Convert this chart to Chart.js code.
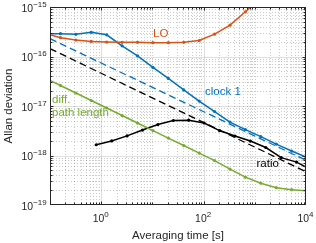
<!DOCTYPE html>
<html>
<head>
<meta charset="utf-8">
<script src="https://cdn.jsdelivr.net/npm/chart.js@4.4.1/dist/chart.umd.min.js"></script>
<style>
  html, body { margin: 0; padding: 0; background: #fff; }
  #wrap { width: 316px; height: 243px; }
</style>
</head>
<body>
<div id="wrap"><canvas id="allanChart" width="316" height="243"></canvas></div>
<script>
// averaging times (s), octave spaced
const tauOct = [0.1, 0.16, 0.32, 0.64, 1.28, 2.56, 5.12, 10.24, 20.48, 40.96, 81.92,
                163.84, 327.68, 655.36, 1310.72, 2621.44, 5242.88, 10000];
const tauRatio = [0.8, 1.6, 3.2, 6.4, 12.8, 25.6, 51.2, 102.4, 204.8, 409.6, 819.2,
                  1638.4, 3276.8, 6553.6, 10000];
const tauFit = [0.1, 10000];

const loValues = [2.76e-16, 2.40e-16, 2.15e-16, 2.02e-16, 1.96e-16, 1.93e-16, 1.93e-16,
                  1.90e-16, 1.90e-16, 1.93e-16, 2.10e-16, 2.83e-16, 4.30e-16, 8.0e-16, 1.53e-15];
const clock1Values = [2.89e-16, 2.89e-16, 2.80e-16, 3.08e-16, 2.74e-16, 1.64e-16, 1.03e-16,
                      6.01e-17, 3.60e-17, 2.11e-17, 1.26e-17, 7.74e-18, 4.74e-18, 3.34e-18,
                      2.41e-18, 1.70e-18, 1.23e-18, 9.28e-19];
const pathValues = [3.28e-17, 2.60e-17, 1.83e-17, 1.29e-17, 9.11e-18, 6.42e-18, 4.53e-18,
                    3.19e-18, 2.25e-18, 1.59e-18, 1.12e-18, 7.88e-19, 5.31e-19, 3.65e-19,
                    2.76e-19, 2.24e-19, 2.04e-19, 1.95e-19];
const ratioValues = [1.65e-18, 1.97e-18, 2.49e-18, 3.27e-18, 4.22e-18, 5.09e-18, 5.16e-18,
                     4.53e-18, 3.19e-18, 2.47e-18, 1.96e-18, 1.45e-18, 9.07e-19, 7.35e-19, 5.82e-19];
const clock1Fit = [2.29e-16, 8.0e-19];
const ratioFit = [1.44e-16, 4.7e-19];

const xTickExps = [0, 2, 4];
const yTickExps = [-19, -18, -17, -16, -15];

const FONT = "'Liberation Sans', Arial, Helvetica, sans-serif";
const AXIS_COLOR = '#262626';
const BLUE = '#0072BD', ORANGE = '#D95319', GREEN = '#77AC30';

function points(taus, values) {
    return values.map((v, i) => ({ x: taus[i], y: v }));
}

const markerRadius = ctx => {
    const x = ctx.raw ? ctx.raw.x : 1;
    return (x <= 0.1 || x >= 10000) ? 0 : 1.6;
};

function drawPower(ctx, exp, x, y, align) {
    const supText = exp < 0 ? '\u2212' + (-exp) : String(exp);
    ctx.font = '10.4px ' + FONT;
    const baseW = ctx.measureText('10').width;
    ctx.font = '8px ' + FONT;
    const supW = ctx.measureText(supText).width;
    const left = align === 'right' ? x - baseW - supW : x - (baseW + supW) / 2;
    ctx.textAlign = 'left';
    ctx.textBaseline = 'alphabetic';
    ctx.font = '10.4px ' + FONT;
    ctx.fillText('10', left, y);
    ctx.font = '8px ' + FONT;
    ctx.fillText(supText, left + baseW, y - 5);
}

const matlabAxes = {
    id: 'matlabAxes',
    beforeDatasetsDraw(chart) {
        const { ctx, chartArea: a, scales: { x, y } } = chart;
        ctx.save();
        ctx.lineWidth = 1;
        // minor grid, dotted
        ctx.strokeStyle = 'rgba(38,38,38,0.24)';
        ctx.setLineDash([1, 2]);
        ctx.beginPath();
        for (let e = -1; e <= 3; e++) {
            for (let k = 1; k <= 9; k++) {
                if (k === 1 && (e === -1 || e % 2 === 0)) continue;
                const px = Math.round(x.getPixelForValue(k * Math.pow(10, e))) + 0.5;
                ctx.moveTo(px, a.top); ctx.lineTo(px, a.bottom);
            }
        }
        for (let e = -19; e <= -16; e++) {
            for (let k = 2; k <= 9; k++) {
                const py = Math.round(y.getPixelForValue(k * Math.pow(10, e))) + 0.5;
                ctx.moveTo(a.left, py); ctx.lineTo(a.right, py);
            }
        }
        ctx.stroke();
        // major grid, solid
        ctx.setLineDash([]);
        ctx.strokeStyle = 'rgba(38,38,38,0.15)';
        ctx.beginPath();
        [1, 100].forEach(v => {
            const px = Math.round(x.getPixelForValue(v)) + 0.5;
            ctx.moveTo(px, a.top); ctx.lineTo(px, a.bottom);
        });
        [1e-18, 1e-17, 1e-16].forEach(v => {
            const py = Math.round(y.getPixelForValue(v)) + 0.5;
            ctx.moveTo(a.left, py); ctx.lineTo(a.right, py);
        });
        ctx.stroke();
        ctx.restore();
    },
    afterDatasetsDraw(chart) {
        const { ctx, chartArea: a, scales: { x, y } } = chart;
        ctx.save();
        ctx.strokeStyle = AXIS_COLOR;
        ctx.fillStyle = AXIS_COLOR;
        ctx.lineWidth = 1;
        const L = Math.round(a.left) + 0.5, R = Math.round(a.right) - 0.5;
        const T = Math.round(a.top) + 0.5, B = Math.round(a.bottom) - 0.5;
        ctx.strokeRect(L, T, R - L, B - T);
        // inward ticks on all four sides
        ctx.beginPath();
        for (let e = -1; e <= 3; e++) {
            for (let k = 1; k <= 9; k++) {
                const v = k * Math.pow(10, e);
                if (v <= 0.1) continue;
                const len = (k === 1 && e % 2 === 0) ? 3 : 2;
                const px = Math.round(x.getPixelForValue(v)) + 0.5;
                ctx.moveTo(px, B); ctx.lineTo(px, B - len);
                ctx.moveTo(px, T); ctx.lineTo(px, T + len);
            }
        }
        for (let e = -19; e <= -16; e++) {
            for (let k = 1; k <= 9; k++) {
                const v = k * Math.pow(10, e);
                if (v <= 1e-19) continue;
                const len = k === 1 ? 3 : 2;
                const py = Math.round(y.getPixelForValue(v)) + 0.5;
                ctx.moveTo(L, py); ctx.lineTo(L + len, py);
                ctx.moveTo(R, py); ctx.lineTo(R - len, py);
            }
        }
        ctx.stroke();

        // tick labels
        xTickExps.forEach(e => drawPower(ctx, e, x.getPixelForValue(Math.pow(10, e)) - 0.5, 222.3, 'center'));
        yTickExps.forEach(e => drawPower(ctx, e, 46.7, y.getPixelForValue(Math.pow(10, e)) + 4.5, 'right'));

        // axis titles
        ctx.font = '11.5px ' + FONT;
        ctx.textAlign = 'center';
        ctx.textBaseline = 'alphabetic';
        ctx.fillText('Averaging time [s]', (a.left + a.right) / 2, 238.5);
        ctx.save();
        ctx.translate(12, (a.top + a.bottom) / 2);
        ctx.rotate(-Math.PI / 2);
        ctx.fillText('Allan deviation', 0, 0);
        ctx.restore();

        // curve labels
        ctx.textAlign = 'left';
        ctx.textBaseline = 'middle';
        ctx.fillStyle = ORANGE;  ctx.fillText('LO', 153, 33.5);
        ctx.fillStyle = BLUE;    ctx.fillText('clock 1', 205, 92);
        ctx.fillStyle = GREEN;   ctx.fillText('diff.', 52, 100);
        ctx.fillText('path length', 52, 113);
        ctx.fillStyle = '#000';  ctx.fillText('ratio', 256.5, 164);
        ctx.restore();
    }
};

const ctx = document.getElementById('allanChart').getContext('2d');
new Chart(ctx, {
    type: 'line',
    data: {
        datasets: [
            { data: points(tauOct, pathValues), borderColor: GREEN, backgroundColor: GREEN,
              borderWidth: 1.5, pointRadius: markerRadius, pointBorderWidth: 0 },
            { data: points(tauFit, ratioFit), borderColor: '#000', borderWidth: 1.3,
              borderDash: [7, 4], pointRadius: 0 },
            { data: points(tauFit, clock1Fit), borderColor: BLUE, borderWidth: 1.3,
              borderDash: [7, 4], pointRadius: 0 },
            { data: points(tauOct, loValues), borderColor: ORANGE, backgroundColor: ORANGE,
              borderWidth: 1.5, pointRadius: markerRadius, pointBorderWidth: 0 },
            { data: points(tauRatio, ratioValues), borderColor: '#000', backgroundColor: '#000',
              borderWidth: 1.5, pointRadius: markerRadius, pointBorderWidth: 0 },
            { data: points(tauOct, clock1Values), borderColor: BLUE, backgroundColor: BLUE,
              borderWidth: 1.5, pointRadius: markerRadius, pointBorderWidth: 0 }
        ]
    },
    options: {
        responsive: false,
        animation: false,
        devicePixelRatio: 1,
        layout: { padding: { left: 0, top: 7, right: 10, bottom: 0 } },
        plugins: { legend: { display: false }, tooltip: { enabled: false } },
        elements: { line: { tension: 0 } },
        scales: {
            x: {
                type: 'logarithmic', min: 0.1, max: 10000,
                grid: { display: false }, border: { display: false },
                ticks: { display: false },
                afterFit: s => { s.height = 38; }
            },
            y: {
                type: 'logarithmic', min: 1e-19, max: 1e-15,
                grid: { display: false }, border: { display: false },
                ticks: { display: false },
                afterFit: s => { s.width = 50; }
            }
        }
    },
    plugins: [matlabAxes]
});
</script>
</body>
</html>
